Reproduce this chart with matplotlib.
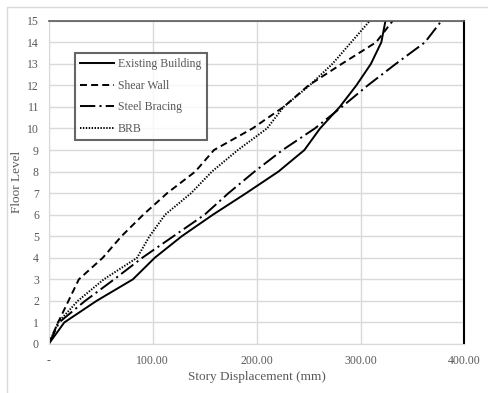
import matplotlib
matplotlib.use("Agg")
from matplotlib import pyplot as plt
from matplotlib.patches import Rectangle

floors = list(range(16))
existing = [0, 15, 46, 81, 102, 128, 158, 190, 221, 246, 261, 280, 296, 310, 320, 324]
shear_wall = [0, 9, 19, 29, 52, 70, 91, 114, 141, 159, 196, 226, 250, 282, 315, 331]
steel_bracing = [0, 10, 35, 63, 90, 120, 150, 173, 198, 225, 256, 282, 307, 334, 362, 378]
brb = [0, 9, 28, 53, 85, 97, 112, 137, 157, 182, 210, 226, 251, 273, 291, 309]

x_ticks = [0, 100, 200, 300, 400]
x_tick_labels = ["-", "100.00", "200.00", "300.00", "400.00"]

plt.rcParams['font.family'] = ['Liberation Serif', 'DejaVu Serif']
plt.rcParams['lines.scale_dashes'] = False
text_color = "#595959"
grid_color = "#d9d9d9"

fig = plt.figure(figsize=(4.88, 3.93), dpi=100)
ax = fig.add_axes([0.0998, 0.1247, 0.852, 0.8226])

# chart-area frame (cropped on the right and bottom in the reference)
fig.patches.append(Rectangle((6.7 / 488, -0.1), 1.2, 1 - 7.3 / 393 + 0.1, transform=fig.transFigure,
                             fill=False, edgecolor=grid_color, linewidth=1.0))

lw = 1.4
ax.plot(existing, floors, color="black", linewidth=lw, linestyle="-", label="Existing Building",
        solid_joinstyle="round")
ax.plot(shear_wall, floors, color="black", linewidth=lw, linestyle=(0, (5, 3)), label="Shear Wall")
ax.plot(steel_bracing, floors, color="black", linewidth=lw, linestyle=(0, (11, 3, 1.5, 3)), label="Steel Bracing")
ax.plot(brb, floors, color="black", linewidth=lw, linestyle=(0, (1, 1.1)), label="BRB")

ax.set_xlim(0, 400)
ax.set_ylim(0, 15)
ax.set_xticks(x_ticks)
ax.set_xticklabels(x_tick_labels)
ax.set_yticks(floors)
ax.tick_params(length=0, labelsize=8.5, colors=text_color, pad=8)
ax.tick_params(axis="y", pad=7)
ax.grid(color=grid_color, linewidth=1.0)
ax.set_axisbelow(True)

ax.spines["top"].set_color("#595959")
ax.spines["top"].set_linewidth(1.2)
ax.spines["right"].set_color("black")
ax.spines["right"].set_linewidth(1.5)
ax.spines["left"].set_color(grid_color)
ax.spines["bottom"].set_color(grid_color)

ax.set_xlabel("Story Displacement (mm)", fontsize=9.5, color=text_color, labelpad=3)
ax.set_ylabel("Floor Level", fontsize=9.5, color=text_color, labelpad=3)

leg = ax.legend(loc="upper left", bbox_to_anchor=(0.063, 0.900), borderaxespad=0, fontsize=8.5,
                frameon=True, fancybox=False, handlelength=2.9, handletextpad=0.3, labelspacing=0.8,
                borderpad=0.45)
leg.get_frame().set_edgecolor("#404040")
leg.get_frame().set_linewidth(1.5)
for t in leg.get_texts():
    t.set_color(text_color)

fig.savefig("out.png", dpi=100)
